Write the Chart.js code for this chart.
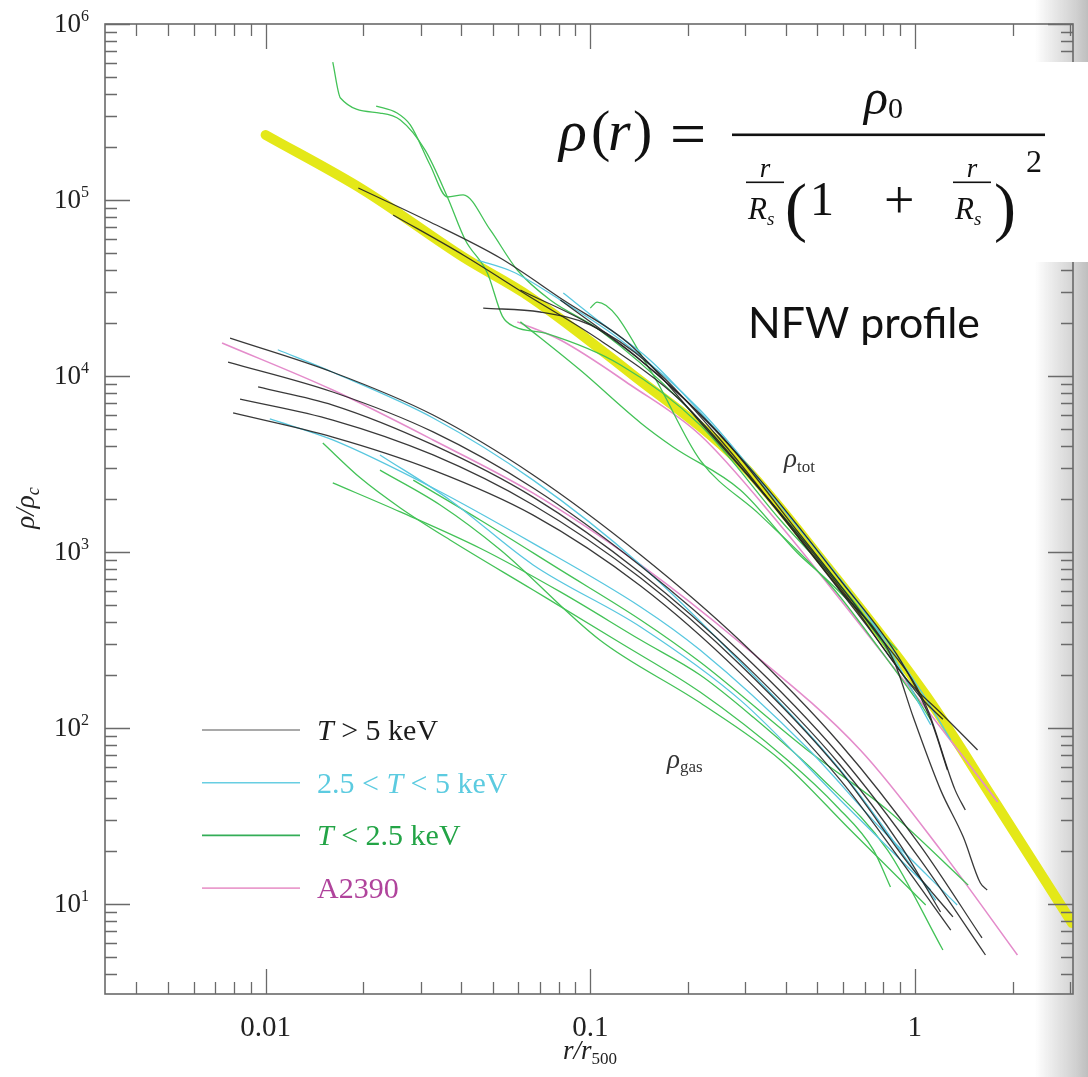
<!DOCTYPE html>
<html>
<head>
<meta charset="utf-8">
<script src="https://cdn.jsdelivr.net/npm/chart.js@4.4.1/dist/chart.umd.min.js"></script>
<style>
  html, body { margin: 0; padding: 0; background: #fff; }
  #wrap { width: 1088px; height: 1077px; }
</style>
</head>
<body>
<div id="wrap"><canvas id="chart" width="1088" height="1077"></canvas></div>
<script>
// axis ranges (r / r500 and rho / rho_c)
const X_MIN = 0.0032, X_MAX = 3.07;
const Y_MIN = 3.08, Y_MAX = 1e6;
const xTickLabels = ["0.01", "0.1", "1"];
const yTickExps = [1, 2, 3, 4, 5, 6];

// NFW fit, thick yellow
const nfw = [[0.01,2.34e5],[0.02,1.14e5],[0.0406,4.74e4],[0.0653,2.81e4],[0.133,1.04e4],[0.29,3.21e3],[0.537,822],[1.09,150],[1.75,39],[3.05,7.8]];

// rho_tot, T > 5 keV
const totHot1 = [[0.0193,1.17e5],[0.0321,7.5e4],[0.0528,4.68e4],[0.0826,2.7e4],[0.133,1.5e4],[0.229,4.93e3],[0.385,1.67e3],[0.619,555],[0.948,187],[1.2,122],[1.56,75]];
const totHot2 = [[0.0247,8.22e4],[0.0406,4.87e4],[0.0653,2.81e4],[0.107,1.6e4],[0.189,7.31e3],[0.334,2.25e3],[0.589,608],[0.859,243],[0.989,115],[1.2,44.5],[1.41,24],[1.59,13.2],[1.67,12]];
const totHot3 = [[0.0468,2.43e4],[0.0701,2.31e4],[0.1,1.95e4],[0.153,1.155e4],[0.252,4.33e3],[0.444,1.17e3],[0.729,360],[1.04,150],[1.22,112]];
const totHot4 = [[0.0609,3.08e4],[0.107,1.82e4],[0.189,7.8e3],[0.334,2.56e3],[0.589,693],[0.902,243],[1.12,111],[1.26,57.7]];
const totHot5 = [[0.0809,2.7e4],[0.143,1.23e4],[0.252,4.62e3],[0.444,1.25e3],[0.729,385],[1.08,135],[1.33,44.5],[1.43,34.2]];
// rho_tot, 2.5 < T < 5 keV
const totMid1 = [[0.0449,4.56e4],[0.0579,3.9e4],[0.0809,2.7e4],[0.124,1.6e4],[0.218,6.41e3],[0.385,1.85e3],[0.679,500],[1.04,164],[1.29,85.5]];
const totMid2 = [[0.0826,2.96e4],[0.107,2.03e4],[0.153,1.23e4],[0.252,4.62e3],[0.444,1.33e3],[0.783,338],[1.12,104]];
// rho_tot, T < 2.5 keV
const totCool1 = [[0.0161,6.08e5],[0.017,3.8e5],[0.0225,3.12e5],[0.026,2.85e5],[0.031,1.92e5],[0.0363,1.04e5],[0.0412,5.93e4],[0.0482,3.85e4],[0.0536,2.19e4],[0.0587,1.9e4],[0.0727,1.75e4],[0.124,1.155e4],[0.218,5.27e3],[0.385,1.52e3],[0.679,468],[1.12,111]];
const totCool2 = [[0.0219,3.42e5],[0.0254,3.12e5],[0.0279,2.67e5],[0.0321,1.58e5],[0.0363,1.04e5],[0.0406,1.07e5],[0.0492,6.76e4],[0.0596,4e4],[0.0753,2.7e4],[0.107,1.82e4],[0.189,7.31e3],[0.334,2.25e3],[0.589,649],[0.783,316]];
const totCool3 = [[0.1,2.43e4],[0.105,2.63e4],[0.153,1.08e4],[0.218,3.33e3],[0.334,1.62e3],[0.549,649],[0.783,277],[1.04,135]];
const totCool4 = [[0.0609,2.03e4],[0.0931,1.08e4],[0.143,5.41e3],[0.18,3.95e3],[0.29,2.25e3],[0.435,986],[0.537,693],[0.883,277]];
// rho_tot, A2390
const totA2390 = [[0.0596,2.03e4],[0.0809,1.6e4],[0.133,8.89e3],[0.218,4.62e3],[0.385,1.42e3],[0.679,385],[1.12,119],[1.8,38]];

// rho_gas, T > 5 keV
const gasHot1 = [[0.00777,1.64e4],[0.0161,1.05e4],[0.0328,6e3],[0.0667,2.74e3],[0.143,962],[0.29,312],[0.589,81.1],[1.04,21.4],[1.61,6.41]];
const gasHot2 = [[0.00766,1.2e4],[0.0161,8.11e3],[0.0328,4.81e3],[0.0667,2.31e3],[0.143,832],[0.29,270],[0.589,69.3],[1.04,17.8],[1.65,5.13]];
const gasHot3 = [[0.00948,8.66e3],[0.0161,6.84e3],[0.0328,4.06e3],[0.0667,2.05e3],[0.143,760],[0.29,243],[0.589,61.6],[0.902,21.6],[1.2,9]];
const gasHot4 = [[0.00834,7.4e3],[0.0161,5.62e3],[0.0328,3.56e3],[0.0667,1.85e3],[0.143,711],[0.29,228],[0.589,57],[0.969,16.4],[1.31,8.44]];
const gasHot5 = [[0.00794,6.17e3],[0.0161,4.5e3],[0.0328,2.92e3],[0.0667,1.62e3],[0.143,641],[0.29,205],[0.589,50.7],[0.902,17.8],[1.29,7.11]];
// rho_gas, 2.5 < T < 5 keV
const gasMid1 = [[0.0109,1.41e4],[0.0161,1.05e4],[0.0328,5.77e3],[0.0667,2.56e3],[0.143,844],[0.29,237],[0.589,57.7],[1.16,10.5]];
const gasMid2 = [[0.0103,5.7e3],[0.0161,4.33e3],[0.0328,2.31e3],[0.0667,1.12e3],[0.143,487],[0.218,277],[0.466,76.9],[0.783,27],[1.35,9.87]];
const gasMid3 = [[0.0225,3.56e3],[0.037,1.97e3],[0.0667,844],[0.143,375],[0.29,144],[0.589,39],[1.12,12]];
// rho_gas, T < 2.5 keV
const gasCool1 = [[0.015,4.16e3],[0.0196,2.63e3],[0.026,1.78e3],[0.037,1.17e3],[0.0667,608],[0.124,304],[0.218,160],[0.405,65.8],[0.577,35.6],[0.745,20.3],[0.841,12.5]];
const gasCool2 = [[0.0161,2.47e3],[0.026,1.69e3],[0.0458,1.05e3],[0.0809,593],[0.143,316],[0.218,200],[0.318,115],[0.511,52.7],[0.823,20.3],[1.22,5.48]];
const gasCool3 = [[0.0285,2.56e3],[0.0458,1.52e3],[0.0809,791],[0.143,411],[0.218,237],[0.466,75],[0.823,34.2],[1.46,12.8]];
const gasCool4 = [[0.0225,2.92e3],[0.0345,1.85e3],[0.0528,1.03e3],[0.107,316],[0.218,139],[0.385,65.8],[0.633,26.3],[1.08,9.87]];
// rho_gas, A2390
const gasA2390 = [[0.00734,1.54e4],[0.0161,8.32e3],[0.0328,4.33e3],[0.0667,2.16e3],[0.143,844],[0.29,304],[0.679,75],[1.2,20.3],[2.07,5.13]];

const groups = [
	{ color: "rgba(35,35,35,0.9)", width: 1.3, curves: [totHot1, totHot2, totHot3, totHot4, totHot5, gasHot1, gasHot2, gasHot3, gasHot4, gasHot5] },
	{ color: "#58c7df", width: 1.3, curves: [totMid1, totMid2, gasMid1, gasMid2, gasMid3] },
	{ color: "#43c257", width: 1.3, curves: [totCool1, totCool2, totCool3, totCool4, gasCool1, gasCool2, gasCool3, gasCool4] },
	{ color: "#e48ccb", width: 1.6, curves: [totA2390, gasA2390] },
];

const legendItems = [
	{ line: "#8c8c8c", text: "#1c1c1c", parts: [["T", true], [" > 5 keV", false]] },
	{ line: "#68cee2", text: "#5ccbe0", parts: [["2.5 < ", false], ["T", true], [" < 5 keV", false]] },
	{ line: "#33ad57", text: "#23a446", parts: [["T", true], [" < 2.5 keV", false]] },
	{ line: "#ea9ccd", text: "#b0449c", parts: [["A2390", false]] },
];

const toXY = (pts) => pts.map(([x, y]) => ({ x, y }));

const datasets = [];
groups.forEach((g) => {
	g.curves.forEach((c) => {
		datasets.push({
			data: toXY(c),
			borderColor: g.color,
			borderWidth: g.width,
			order: 0,
		});
	});
});
datasets.push({
	data: toXY(nfw),
	borderColor: "#e4e818",
	borderWidth: 10,
	borderCapStyle: "round",
	order: 1,
});

const SERIF = '"Liberation Serif", "Times New Roman", serif';

function drawParts(ctx, parts, x, y) {
	// parts: [text, font, dy]
	let cx = x;
	parts.forEach(([t, font, dy]) => {
		ctx.font = font;
		ctx.fillText(t, cx, y + (dy || 0));
		cx += ctx.measureText(t).width;
	});
	return cx;
}
function partsWidth(ctx, parts) {
	let w = 0;
	parts.forEach(([t, font]) => {
		ctx.font = font;
		w += ctx.measureText(t).width;
	});
	return w;
}

function logTicks(min, max) {
	const out = [];
	for (let e = Math.floor(Math.log10(min)); e <= Math.ceil(Math.log10(max)); e++) {
		for (let m = 1; m <= 9; m++) {
			const v = m * Math.pow(10, e);
			if (v >= min * 0.999 && v <= max * 1.001) out.push({ v, major: m === 1 });
		}
	}
	return out;
}

function smallFrac(ctx, cx) {
	ctx.textAlign = "center";
	ctx.font = `italic 27px ${SERIF}`;
	ctx.fillText("r", cx, 177);
	ctx.fillRect(cx - 19, 181.5, 38, 1.6);
	ctx.textAlign = "left";
	ctx.font = `italic 31px ${SERIF}`;
	const rw = ctx.measureText("R").width;
	ctx.fillText("R", cx - 17, 219);
	ctx.font = `italic 19px ${SERIF}`;
	ctx.fillText("s", cx - 17 + rw, 225);
}

const decor = {
	id: "decor",
	beforeDatasetsDraw(chart) {
		const ctx = chart.ctx;
		ctx.save();
		const g = ctx.createLinearGradient(1035, 0, 1088, 0);
		g.addColorStop(0, "rgba(200,200,200,0)");
		g.addColorStop(0.75, "rgba(205,205,205,0.9)");
		g.addColorStop(1, "rgba(190,190,190,1)");
		ctx.fillStyle = g;
		ctx.fillRect(1035, 0, 53, 1077);
		ctx.restore();
	},
	afterDatasetsDraw(chart) {
		const ctx = chart.ctx;
		const { left, right, top, bottom } = chart.chartArea;
		const xs = chart.scales.x, ys = chart.scales.y;
		ctx.save();

		// frame
		ctx.strokeStyle = "#6a6a6a";
		ctx.lineWidth = 1.6;
		ctx.strokeRect(left, top, right - left, bottom - top);

		// inward ticks on all four sides
		ctx.lineWidth = 1.3;
		ctx.beginPath();
		logTicks(X_MIN, X_MAX).forEach(({ v, major }) => {
			const px = Math.round(xs.getPixelForValue(v)) + 0.5;
			const len = major ? 25 : 12;
			ctx.moveTo(px, bottom); ctx.lineTo(px, bottom - len);
			ctx.moveTo(px, top); ctx.lineTo(px, top + len);
		});
		logTicks(Y_MIN, Y_MAX).forEach(({ v, major }) => {
			const py = Math.round(ys.getPixelForValue(v)) + 0.5;
			const len = major ? 25 : 12;
			ctx.moveTo(left, py); ctx.lineTo(left + len, py);
			ctx.moveTo(right, py); ctx.lineTo(right - len, py);
		});
		ctx.stroke();

		// tick labels
		ctx.fillStyle = "#222";
		ctx.textAlign = "center";
		ctx.textBaseline = "alphabetic";
		ctx.font = `29px ${SERIF}`;
		xTickLabels.forEach((lab) => {
			const px = xs.getPixelForValue(parseFloat(lab));
			ctx.fillText(lab, px, 1036);
		});
		yTickExps.forEach((e) => {
			const py = ys.getPixelForValue(Math.pow(10, e));
			ctx.textAlign = "right";
			ctx.font = `27px ${SERIF}`;
			ctx.fillText("10", 81, py + 8);
			ctx.textAlign = "left";
			ctx.font = `16px ${SERIF}`;
			ctx.fillText(String(e), 81, py - 3);
		});

		// axis titles
		ctx.textAlign = "left";
		const xt = [["r/r", `italic 27px ${SERIF}`], ["500", `17px ${SERIF}`, 5]];
		drawParts(ctx, xt, 590 - partsWidth(ctx, xt) / 2, 1059);
		ctx.save();
		ctx.translate(34, 508);
		ctx.rotate(-Math.PI / 2);
		const yt = [["ρ/ρ", `italic 27px ${SERIF}`], ["c", `italic 18px ${SERIF}`, 5]];
		drawParts(ctx, yt, -partsWidth(ctx, yt) / 2, 0);
		ctx.restore();

		// curve-bundle labels
		ctx.fillStyle = "#333";
		drawParts(ctx, [["ρ", `italic 27px ${SERIF}`], ["tot", `17px ${SERIF}`, 5]], 784, 467);
		drawParts(ctx, [["ρ", `italic 27px ${SERIF}`], ["gas", `17px ${SERIF}`, 4]], 667, 768);

		// legend
		legendItems.forEach((it, i) => {
			const y = 730 + i * 52.7;
			ctx.strokeStyle = it.line;
			ctx.lineWidth = 1.6;
			ctx.beginPath();
			ctx.moveTo(202, y); ctx.lineTo(300, y);
			ctx.stroke();
			ctx.fillStyle = it.text;
			drawParts(ctx, it.parts.map(([t, ital]) => [t, `${ital ? "italic " : ""}30px ${SERIF}`]), 317, y + 10);
		});

		// pasted formula panel
		ctx.fillStyle = "#fff";
		ctx.fillRect(540, 62, 548, 200);
		ctx.fillStyle = "#111";
		ctx.font = `italic 58px ${SERIF}`;
		ctx.fillText("ρ", 559, 150);
		ctx.fillText("r", 608, 150);
		ctx.font = `58px ${SERIF}`;
		ctx.fillText("(", 591, 150);
		ctx.fillText(")", 633, 150);
		ctx.font = `64px ${SERIF}`;
		ctx.fillText("=", 670, 155);
		ctx.fillRect(732, 133.5, 313, 2.6);
		drawParts(ctx, [["ρ", `italic 50px ${SERIF}`], ["0", `30px ${SERIF}`, 4]], 864, 114);
		smallFrac(ctx, 765);
		ctx.textAlign = "left";
		ctx.font = `66px ${SERIF}`;
		ctx.fillText("(", 785, 229);
		ctx.font = `48px ${SERIF}`;
		ctx.fillText("1", 810, 215);
		ctx.font = `54px ${SERIF}`;
		ctx.fillText("+", 884, 218);
		smallFrac(ctx, 972);
		ctx.textAlign = "left";
		ctx.font = `66px ${SERIF}`;
		ctx.fillText(")", 994, 229);
		ctx.font = `32px ${SERIF}`;
		ctx.fillText("2", 1026, 172);

		// NFW profile caption
		ctx.fillStyle = "#111";
		let fs = 38;
		ctx.font = `${fs}px Lato, "Open Sans", sans-serif`;
		fs = fs * 232 / ctx.measureText("NFW profile").width;
		ctx.font = `${fs}px Lato, "Open Sans", sans-serif`;
		ctx.fillText("NFW profile", 748, 338);

		ctx.restore();
	},
};

new Chart(document.getElementById("chart"), {
	type: "line",
	data: { datasets },
	options: {
		responsive: false,
		animation: false,
		layout: { padding: { left: 105, top: 24, right: 15, bottom: 83 } },
		scales: {
			x: { type: "logarithmic", min: X_MIN, max: X_MAX, display: false },
			y: { type: "logarithmic", min: Y_MIN, max: Y_MAX, display: false },
		},
		elements: {
			point: { radius: 0 },
			line: { cubicInterpolationMode: "monotone", borderJoinStyle: "round" },
		},
		plugins: {
			legend: { display: false },
			tooltip: { enabled: false },
		},
	},
	plugins: [decor],
});
</script>
</body>
</html>
